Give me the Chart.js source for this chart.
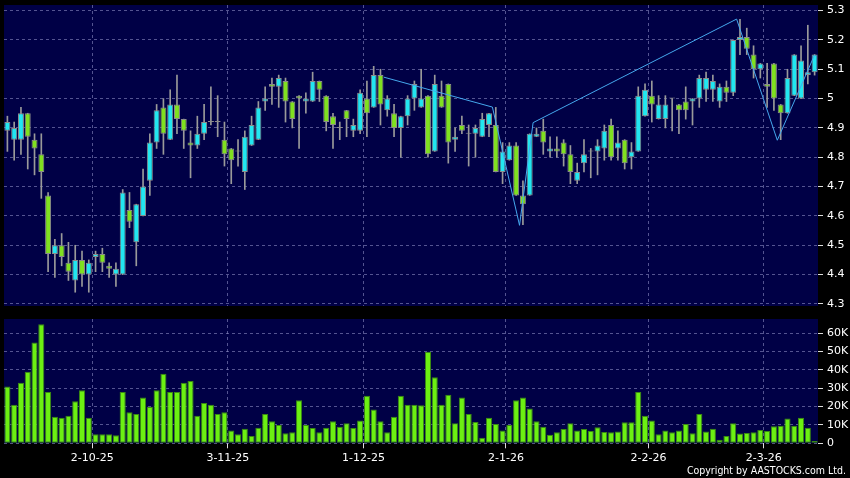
<!DOCTYPE html>
<html>
<head>
<meta charset="utf-8">
<title>AASTOCKS chart</title>
<script src="https://cdn.jsdelivr.net/npm/chart.js@4.4.1/dist/chart.umd.min.js"></script>
<style>
  html, body { margin: 0; padding: 0; background: #000; }
  #wrap { position: relative; width: 850px; height: 478px; overflow: hidden; background: #000; }
  #copy { position: absolute; right: 4px; top: 464px; color: #fff; font-family: "DejaVu Sans", sans-serif;
          font-size: 10.5px; font-stretch: condensed; white-space: nowrap; }
</style>
</head>
<body>
<div id="wrap">
  <canvas id="priceChart" width="850" height="310" style="position:absolute;left:0;top:0"></canvas>
  <canvas id="volChart" width="850" height="168" style="position:absolute;left:0;top:310px"></canvas>
  <div id="copy">Copyright by AASTOCKS.com Ltd.</div>
</div>
<script>
// daily candles, oldest first (12-9-25 .. 11-3-26)
const opens = [
  4.89, 4.86, 4.86, 4.95, 4.86, 4.81, 4.67, 4.47, 4.50, 4.44,
  4.38, 4.45, 4.40, 4.46, 4.47, 4.43, 4.40, 4.40, 4.62, 4.51,
  4.60, 4.72, 4.85, 4.97, 4.86, 4.98, 4.93, 4.85, 4.84, 4.88,
  4.92, 4.92, 4.86, 4.83, 4.82, 4.75, 4.84, 4.86, 4.99, 5.05,
  5.04, 5.06, 4.99, 5.01, 4.99, 4.99, 5.06, 5.01, 4.94, 4.90,
  4.96, 4.89, 4.89, 5.00, 4.97, 5.08, 4.96, 4.95, 4.90, 4.94,
  5.00, 4.97, 5.01, 4.82, 5.01, 5.05, 4.86, 4.91, 4.88, 4.88,
  4.87, 4.91, 4.91, 4.75, 4.79, 4.84, 4.67, 4.67, 4.87, 4.89,
  4.82, 4.83, 4.85, 4.81, 4.72, 4.78, 4.82, 4.82, 4.83, 4.91,
  4.83, 4.86, 4.80, 4.82, 4.94, 5.01, 4.93, 4.93, 5.00, 4.98,
  4.99, 4.99, 5.00, 5.03, 5.03, 4.99, 5.04, 5.02, 5.20, 5.21,
  5.15, 5.10, 5.05, 5.12, 4.98, 4.95, 5.01, 5.00, 5.08, 5.09
];
const highs = [
  4.94, 4.92, 4.97, 4.95, 4.88, 4.88, 4.68, 4.52, 4.54, 4.51,
  4.50, 4.48, 4.45, 4.48, 4.49, 4.44, 4.44, 4.69, 4.68, 4.64,
  4.76, 4.88, 4.98, 5.00, 5.03, 5.08, 4.93, 4.89, 4.94, 4.98,
  5.04, 5.01, 4.92, 4.83, 4.86, 4.89, 4.94, 4.99, 5.04, 5.07,
  5.08, 5.07, 4.99, 5.01, 5.02, 5.09, 5.06, 5.01, 4.95, 4.92,
  4.96, 4.93, 5.03, 5.06, 5.11, 5.10, 5.01, 4.98, 4.94, 5.01,
  5.06, 5.10, 5.01, 5.08, 5.06, 5.05, 4.90, 4.94, 4.91, 4.91,
  4.95, 4.95, 4.97, 4.85, 4.85, 4.85, 4.72, 4.88, 4.90, 4.93,
  4.87, 4.87, 4.86, 4.84, 4.78, 4.86, 4.83, 4.86, 4.91, 4.93,
  4.89, 4.86, 4.85, 5.04, 5.05, 5.06, 5.01, 5.01, 5.00, 4.98,
  5.04, 5.00, 5.08, 5.09, 5.08, 5.05, 5.06, 5.20, 5.27, 5.24,
  5.18, 5.12, 5.12, 5.12, 4.98, 5.10, 5.15, 5.18, 5.25, 5.15
];
const lows = [
  4.82, 4.79, 4.81, 4.76, 4.74, 4.66, 4.41, 4.39, 4.43, 4.38,
  4.34, 4.36, 4.34, 4.41, 4.41, 4.39, 4.36, 4.40, 4.56, 4.43,
  4.60, 4.67, 4.83, 4.81, 4.86, 4.88, 4.83, 4.73, 4.83, 4.86,
  4.91, 4.87, 4.77, 4.71, 4.77, 4.69, 4.84, 4.86, 4.96, 4.98,
  4.97, 4.92, 4.90, 4.83, 4.95, 4.99, 4.99, 4.89, 4.83, 4.86,
  4.87, 4.87, 4.88, 4.87, 4.97, 4.91, 4.94, 4.87, 4.80, 4.91,
  4.96, 4.97, 4.80, 4.82, 4.97, 4.78, 4.82, 4.88, 4.77, 4.80,
  4.87, 4.87, 4.75, 4.71, 4.79, 4.67, 4.57, 4.67, 4.87, 4.81,
  4.80, 4.80, 4.77, 4.71, 4.71, 4.75, 4.73, 4.74, 4.79, 4.79,
  4.79, 4.76, 4.76, 4.82, 4.94, 4.92, 4.93, 4.90, 4.89, 4.88,
  4.93, 4.91, 4.97, 4.99, 4.99, 4.97, 4.99, 5.01, 5.15, 5.15,
  5.07, 5.07, 4.97, 4.96, 4.86, 4.95, 5.01, 5.00, 5.05, 5.08
];
const closes = [
  4.92, 4.90, 4.95, 4.87, 4.83, 4.75, 4.47, 4.50, 4.46, 4.41,
  4.45, 4.40, 4.44, 4.47, 4.44, 4.42, 4.42, 4.68, 4.58, 4.64,
  4.70, 4.85, 4.96, 4.88, 4.98, 4.93, 4.89, 4.84, 4.88, 4.92,
  4.92, 4.92, 4.81, 4.79, 4.82, 4.87, 4.91, 4.97, 5.00, 5.04,
  5.07, 4.99, 4.93, 5.00, 5.00, 5.06, 5.03, 4.92, 4.91, 4.90,
  4.93, 4.91, 5.02, 4.95, 5.08, 4.98, 5.00, 4.90, 4.94, 5.00,
  5.05, 5.00, 4.81, 5.05, 4.97, 4.85, 4.87, 4.89, 4.88, 4.90,
  4.93, 4.95, 4.75, 4.82, 4.84, 4.67, 4.64, 4.88, 4.88, 4.85,
  4.83, 4.82, 4.81, 4.75, 4.75, 4.81, 4.82, 4.84, 4.89, 4.80,
  4.85, 4.78, 4.82, 5.01, 5.03, 4.98, 4.98, 4.98, 5.00, 4.96,
  4.96, 5.00, 5.07, 5.07, 5.06, 5.04, 5.02, 5.20, 5.21, 5.17,
  5.10, 5.12, 5.04, 5.00, 4.95, 5.07, 5.15, 5.13, 5.09, 5.15
];
// volume in shares
const volumes = [
  31000, 21000, 33000, 39000, 55000, 65000, 28000, 14500, 14000, 15000,
  23000, 29000, 14000, 5000, 5000, 5000, 4400, 28000, 17000, 16000,
  25000, 20000, 29000, 38000, 28000, 28000, 33000, 34000, 15000, 22000,
  21000, 16000, 17000, 7000, 5000, 8000, 4000, 8500, 16000, 12000,
  10000, 5500, 6000, 23500, 10000, 8400, 6000, 8500, 12000, 9000,
  11000, 8400, 12500, 26000, 18500, 12000, 6000, 14500, 26000, 21000,
  21000, 20700, 50000, 36000, 21000, 26500, 11000, 25000, 16000, 11600,
  3000, 14000, 10500, 7000, 10000, 23500, 25000, 19000, 12000, 9000,
  4700, 6000, 7800, 11000, 7000, 7800, 6700, 8700, 6200, 6000,
  6500, 11500, 11500, 28000, 15000, 12500, 5000, 7000, 6000, 7000,
  10500, 5500, 16000, 6500, 8000, 2000, 4000, 11000, 5300, 5600,
  6000, 7300, 6700, 9300, 9600, 13500, 9600, 14000, 8500, 1300
];

// date labels and the candle each one sits on
const tickIndex = [13, 33, 53, 74, 95, 112];
const tickLabels = ['2-10-25', '3-11-25', '1-12-25', '2-1-26', '2-2-26', '2-3-26'];

// price / volume axis ticks
const priceTicks = [4.3, 4.4, 4.5, 4.6, 4.7, 4.8, 4.9, 5.0, 5.1, 5.2, 5.3];
const volTicks = [0, 10000, 20000, 30000, 40000, 50000, 60000];
const volTickLabels = ['0', '10K', '20K', '30K', '40K', '50K', '60K'];

// light blue zigzag line (candle position, price)
const zigzagX = [55.5, 71.5, 75.5, 77.5, 107.5, 113.5, 119];
const zigzagY = [5.073, 4.971, 4.568, 4.918, 5.271, 4.858, 5.149];

const UP = '#22e6f0';
const DOWN = '#80e020';
const EDGE = '#8c8c8c';
const GRID = 'rgba(140,140,195,0.6)';
const FONT = { family: 'DejaVu Sans', size: 11 };

const plotBg = {
    id: 'plotBg',
    beforeDraw(chart) {
        const { ctx, chartArea: a } = chart;
        ctx.save();
        ctx.fillStyle = '#000046';
        ctx.fillRect(a.left, a.top, a.right - a.left, a.bottom - a.top);
        ctx.restore();
    }
};

function xAxis(showLabels) {
    return {
        type: 'linear',
        min: -0.5,
        max: opens.length - 0.5,
        offset: false,
        afterBuildTicks: s => { s.ticks = tickIndex.map(i => ({ value: i - 0.5 })); },
        afterFit: s => { s.height = showLabels ? 34.7 : 0; s.paddingLeft = 0; s.paddingRight = 0; },
        grid: { offset: false, color: GRID, lineWidth: 1, drawTicks: showLabels, tickLength: 5, tickColor: '#dddddd', tickBorderDash: [] },
        border: { display: false, dash: [3, 3] },
        ticks: {
            display: showLabels, color: '#ffffff', font: FONT, padding: 3,
            maxRotation: 0, autoSkip: false,
            callback: (v, idx) => tickLabels[idx]
        }
    };
}

function yAxisFit(s) {
    s.width = 32;
    s.paddingTop = 0;
    s.paddingBottom = 0;
}

function yGrid() {
    return { color: GRID, lineWidth: 1, drawTicks: true, tickLength: 5, tickColor: '#dddddd', tickBorderDash: [] };
}

// candle bodies / wicks as floating bars
const idx = opens.map((_, i) => i);
const bodies = idx.map(i => ({ x: i, y: [opens[i], closes[i]] }));
const wicks = idx.map(i => ({ x: i, y: [lows[i], highs[i]] }));
const bodyColors = idx.map(i => closes[i] > opens[i] ? UP : (closes[i] < opens[i] ? DOWN : EDGE));

new Chart(document.getElementById('priceChart'), {
    type: 'bar',
    data: {
        datasets: [
            {
                type: 'line',
                data: zigzagX.map((x, i) => ({ x: x, y: zigzagY[i] })),
                borderColor: '#45a8ee',
                borderWidth: 1,
                pointRadius: 0,
                tension: 0,
                order: 0
            },
            {
                data: bodies,
                backgroundColor: bodyColors,
                borderColor: EDGE,
                borderWidth: 1,
                borderSkipped: false,
                minBarLength: 1,
                grouped: false,
                categoryPercentage: 1,
                barPercentage: 0.88,
                order: 1
            },
            {
                data: wicks,
                backgroundColor: '#9a9a9a',
                borderWidth: 0,
                barThickness: 1,
                grouped: false,
                order: 2
            }
        ]
    },
    options: {
        responsive: false,
        animation: false,
        devicePixelRatio: 1,
        layout: { padding: { left: 4, top: 5, right: 0, bottom: 4 } },
        plugins: { legend: { display: false }, tooltip: { enabled: false } },
        scales: {
            x: xAxis(false),
            y: {
                position: 'right',
                min: 4.293,
                max: 5.319,
                afterBuildTicks: s => { s.ticks = priceTicks.map(v => ({ value: v })); },
                afterFit: yAxisFit,
                grid: yGrid(),
                border: { display: false, dash: [3, 3] },
                ticks: { color: '#ffffff', font: FONT, padding: 4, callback: v => String(Math.round(v * 10) / 10) }
            }
        }
    },
    plugins: [plotBg]
});

new Chart(document.getElementById('volChart'), {
    type: 'bar',
    data: {
        datasets: [{
            data: idx.map(i => ({ x: i, y: volumes[i] })),
            backgroundColor: '#6cf012',
            borderColor: '#3a8a12',
            borderWidth: 1,
            borderSkipped: false,
            categoryPercentage: 1,
            barPercentage: 0.9
        }]
    },
    options: {
        responsive: false,
        animation: false,
        devicePixelRatio: 1,
        layout: { padding: { left: 4, top: 9, right: 0, bottom: 0 } },
        plugins: { legend: { display: false }, tooltip: { enabled: false } },
        scales: {
            x: xAxis(true),
            y: {
                position: 'right',
                min: 0,
                max: 67800,
                afterBuildTicks: s => { s.ticks = volTicks.map(v => ({ value: v })); },
                afterFit: yAxisFit,
                grid: yGrid(),
                border: { display: false, dash: [3, 3] },
                ticks: { color: '#ffffff', font: FONT, padding: 4, callback: (v, i) => volTickLabels[i] }
            }
        }
    },
    plugins: [plotBg]
});
</script>
</body>
</html>
